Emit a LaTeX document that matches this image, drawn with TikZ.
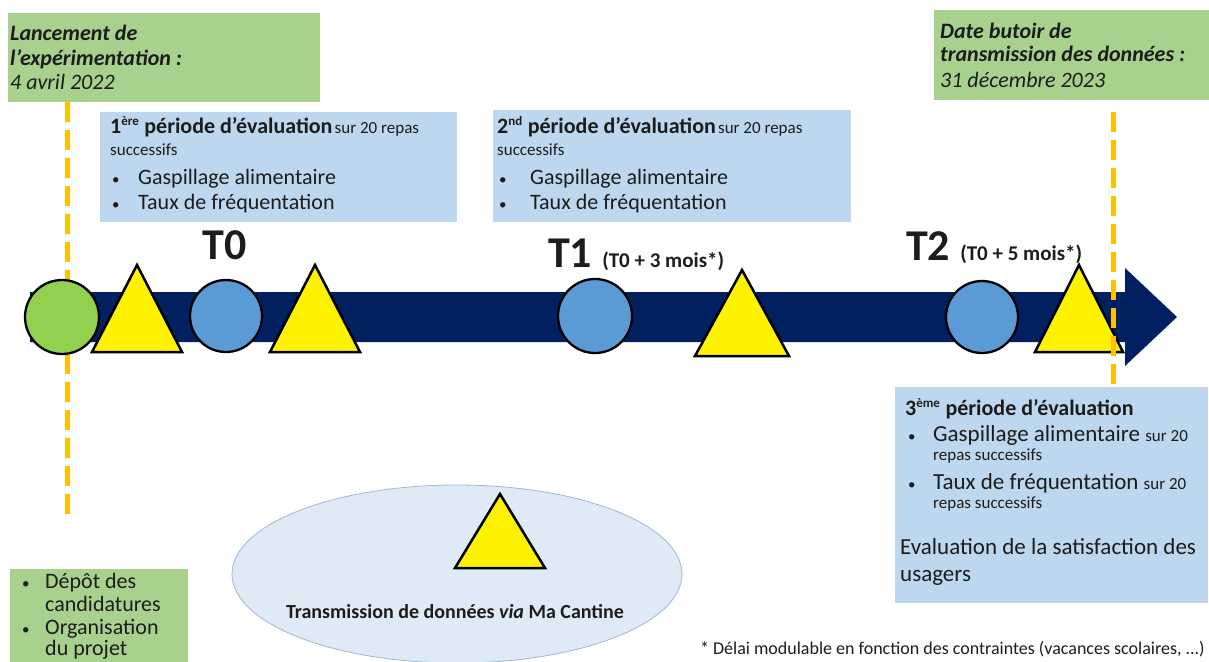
\documentclass[tikz,border=0pt]{standalone}
\usepackage{fontspec}
\setmainfont{Carlito}
\usetikzlibrary{shapes.geometric}

\definecolor{boxgreen}{HTML}{A9D18E}
\definecolor{boxblue}{HTML}{BDD7EE}
\definecolor{navy}{HTML}{002060}
\definecolor{dotgreen}{HTML}{92D050}
\definecolor{dotblue}{HTML}{5B9BD5}
\definecolor{lineorange}{HTML}{FFC000}
\definecolor{cloud}{HTML}{DEEBF7}
\definecolor{cloudline}{HTML}{A5B6CC}
\definecolor{ink}{HTML}{1C1C1C}

\newcommand\fs[1]{\fontsize{#1}{#1}\selectfont}
\newcommand\bul{{\fs{15}•}}

\tikzset{
	greenbox/.style={fill=boxgreen, anchor=north west, inner sep=0},
	bluebox/.style={fill=boxblue, anchor=north west, inner sep=0},
	txt/.style={anchor=base west, inner sep=0, text=ink},
	tri/.style={fill=yellow, draw=black, line width=2.5, line join=miter},
	dot/.style={draw=black, line width=2.3},
	deadline/.style={draw=lineorange, line width=5, dash pattern=on 20pt off 8pt},
}

\begin{document}
\begin{tikzpicture}[x=1pt,y=-1pt]
	\useasboundingbox (0,0) rectangle (1209,661);
	
	% lancement
	\node[greenbox, minimum width=312, minimum height=89] (launch) at (8,13) {};
	\node[txt] (launch1) at (10,41) {\fs{22}\bfseries\itshape Lancement de};
	\node[txt] (launch2) at (10,65) {\fs{22}\bfseries\itshape l’expérimentation :};
	\node[txt] (launch3) at (10,89) {\fs{22}\itshape 4 avril 2022};
	
	% date butoir
	\node[greenbox, minimum width=276, minimum height=90] (deadline) at (934,10) {};
	\node[txt] (deadline1) at (940,38) {\fs{22}\bfseries\itshape Date butoir de};
	\node[txt] (deadline2) at (940,62) {\fs{22}\bfseries\itshape transmission des données :};
	\node[txt] (deadline3) at (940,87) {\fs{22}\itshape 31 décembre 2023};
	
	% 1ere periode
	\node[bluebox, minimum width=357, minimum height=110] (eval1) at (100,112) {};
	\node[txt] (eval1a) at (110,133) {{\fs{22}\bfseries 1\textsuperscript{\fs{13}ère} période d’évaluation} \fs{17}sur 20 repas};
	\node[txt] (eval1b) at (110,155) {\fs{17}successifs};
	\node[txt] (eval1c) at (112,184) {\bul};
	\node[txt] (eval1d) at (138,184) {\fs{22}Gaspillage alimentaire};
	\node[txt] (eval1e) at (112,209) {\bul};
	\node[txt] (eval1f) at (138,209) {\fs{22}Taux de fréquentation};
	
	% 2nd periode
	\node[bluebox, minimum width=358, minimum height=112] (eval2) at (493,110) {};
	\node[txt] (eval2a) at (497,133) {{\fs{22}\bfseries 2\textsuperscript{\fs{13}nd} période d’évaluation} \fs{17}sur 20 repas};
	\node[txt] (eval2b) at (497,155) {\fs{17}successifs};
	\node[txt] (eval2c) at (499,184) {\bul};
	\node[txt] (eval2d) at (530,184) {\fs{22}Gaspillage alimentaire};
	\node[txt] (eval2e) at (499,209) {\bul};
	\node[txt] (eval2f) at (530,209) {\fs{22}Taux de fréquentation};
	
	% 3eme periode
	\node[bluebox, minimum width=313, minimum height=216] (eval3) at (895,387) {};
	\node[txt] (eval3a) at (905,415) {\fs{22}\bfseries 3\textsuperscript{\fs{13}ème} période d’évaluation};
	\node[txt] (eval3b) at (908,441) {\bul};
	\node[txt] (eval3c) at (933,441) {\fs{23}Gaspillage alimentaire \fs{17}sur 20};
	\node[txt] (eval3d) at (933,460) {\fs{17}repas successifs};
	\node[txt] (eval3e) at (908,489) {\bul};
	\node[txt] (eval3f) at (933,489) {\fs{23}Taux de fréquentation \fs{17}sur 20};
	\node[txt] (eval3g) at (933,508) {\fs{17}repas successifs};
	\node[txt] (eval3h) at (900,554) {\fs{23}Evaluation de la satisfaction des};
	\node[txt] (eval3i) at (900,581) {\fs{23}usagers};
	
	% candidatures
	\node[greenbox, minimum width=178, minimum height=95] (prep) at (10,569) {};
	\node[txt] (prep1) at (22,588) {\bul};
	\node[txt] (prep2) at (45,588) {\fs{22}Dépôt des};
	\node[txt] (prep3) at (45,611) {\fs{22}candidatures};
	\node[txt] (prep4) at (22,634) {\bul};
	\node[txt] (prep5) at (45,634) {\fs{22}Organisation};
	\node[txt] (prep6) at (45,655) {\fs{22}du projet};
	
	% ma cantine
	\node[ellipse, fill=cloud, draw=cloudline, line width=0.8, minimum width=450, minimum height=178] (cantine) at (457,574) {};
	\draw[tri] (455,568) -- (500,494) -- (545,568) -- cycle;
	\node[txt, anchor=base] (cantinetxt) at (455,618) {\fs{20}\bfseries Transmission de données \textit{via} Ma Cantine};
	
	% fleche
	\fill[navy] (30,292) -- (1125,292) -- (1125,268) -- (1177,317) -- (1125,366) -- (1125,342) -- (30,342) -- cycle;
	
	\coordinate (launchfoot) at (67,102);
	\coordinate (launchend) at (67,518);
	\draw[deadline] (launchfoot) -- (launchend);
	
	% jalons
	\draw[dot, fill=dotgreen] (62,317) circle [radius=37];
	\draw[tri] (92,352) -- (137,265) -- (182,352) -- cycle;
	\draw[dot, fill=dotblue] (226,316) circle [radius=36];
	\draw[tri] (270,352) -- (315,265) -- (360,352) -- cycle;
	\draw[dot, fill=dotblue] (595,316) circle [radius=37];
	\draw[tri] (695,356) -- (742,270) -- (789,356) -- cycle;
	\draw[dot, fill=dotblue] (982,317) circle [radius=36];
	\draw[tri] (1035,352) -- (1079,265) -- (1123,352) -- cycle;
	
	\coordinate (deadlinefoot) at (1113,112);
	\coordinate (deadlineend) at (1113,386);
	\draw[deadline] (deadlinefoot) -- (deadlineend);
	
	\node[txt, anchor=base] (t0) at (225,259) {\fs{44}\bfseries T0};
	\node[txt] (t1) at (548,267) {{\fs{44}\bfseries T1}\hspace{10pt}\fs{21}\bfseries (T0 + 3 mois*)};
	\node[txt] (t2) at (906,260) {{\fs{44}\bfseries T2}\hspace{10pt}\fs{21}\bfseries (T0 + 5 mois*)};
	
	\node[txt, anchor=base east] (note) at (1205,654) {\fs{18}* Délai modulable en fonction des contraintes (vacances scolaires, ...)};
\end{tikzpicture}
\end{document}
